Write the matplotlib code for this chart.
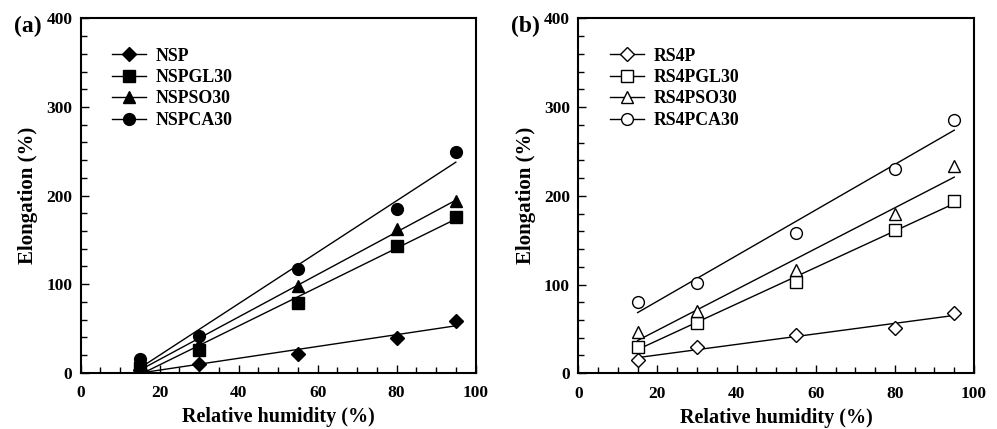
import numpy as np
import matplotlib
matplotlib.use("Agg")
import matplotlib.pyplot as plt
from matplotlib.ticker import MultipleLocator

plt.rcParams['font.family'] = ['Liberation Serif', 'DejaVu Serif']
plt.rcParams['font.weight'] = 'bold'

# Relative humidity levels (%)
rh = [15, 30, 55, 80, 95]

# Elongation (%) of films conditioned at each humidity
labels_a = ["NSP", "NSPGL30", "NSPSO30", "NSPCA30"]
nsp = [3, 10, 21, 39, 59]
nspgl30 = [5, 26, 79, 143, 176]
nspso30 = [8, 33, 98, 162, 194]
nspca30 = [16, 41, 117, 185, 249]

labels_b = ["RS4P", "RS4PGL30", "RS4PSO30", "RS4PCA30"]
rs4p = [15, 30, 43, 51, 68]
rs4pgl30 = [30, 57, 103, 161, 194]
rs4pso30 = [46, 70, 116, 179, 234]
rs4pca30 = [80, 102, 158, 230, 286]

markers = ["D", "s", "^", "o"]
msizes = [7, 8, 8.5, 8.5]


def draw_panel(ax, series, labels, filled, tag):
    x = np.array(rh, dtype=float)
    for y, lab, mk, ms in zip(series, labels, markers, msizes):
        y = np.array(y, dtype=float)
        slope, icpt = np.polyfit(x, y, 1)
        fx = np.array([x.min(), x.max()])
        ax.plot(fx, slope * fx + icpt, color='black', lw=1.0, zorder=2)
        ax.plot(x, y, linestyle='none', marker=mk, ms=ms,
                mfc='black' if filled else 'white', mec='black',
                mew=1.0, zorder=3)
        # legend proxy: line through marker
        ax.plot([], [], color='black', lw=1.0, marker=mk, ms=ms,
                mfc='black' if filled else 'white', mec='black',
                mew=1.0, label=lab)

    ax.set_xlim(0, 100)
    ax.set_ylim(0, 400)
    ax.xaxis.set_major_locator(MultipleLocator(20))
    ax.xaxis.set_minor_locator(MultipleLocator(5))
    ax.yaxis.set_major_locator(MultipleLocator(100))
    ax.yaxis.set_minor_locator(MultipleLocator(20))
    ax.tick_params(which='both', direction='in', top=False, right=False,
                   width=1.0, labelsize=12.5)
    ax.tick_params(axis='x', pad=9)
    ax.tick_params(axis='y', pad=6)
    ax.tick_params(which='major', length=6)
    ax.tick_params(which='minor', length=4)
    for sp in ax.spines.values():
        sp.set_linewidth(1.5)
    for t in ax.get_xticklabels() + ax.get_yticklabels():
        t.set_fontweight('bold')

    ax.set_xlabel("Relative humidity (%)", fontsize=14.5, fontweight='bold',
                  va='bottom')
    ax.xaxis.set_label_coords(0.5, -0.154)
    ax.set_ylabel("Elongation (%)", fontsize=15, fontweight='bold',
                  va='center')
    ax.yaxis.set_label_coords(-0.133, 0.5)

    ax.text(-0.133, 0.978, tag, transform=ax.transAxes, fontsize=17,
            fontweight='bold', ha='center', va='center')

    ax.legend(loc='upper left', bbox_to_anchor=(0.08, 0.918), frameon=False,
              handlelength=1.9, handletextpad=0.55,
              labelspacing=0.25, borderpad=0, borderaxespad=0,
              prop={'weight': 'bold', 'size': 12.8})


fig = plt.figure(figsize=(9.97, 4.29), dpi=100)
ax1 = fig.add_axes([0.081, 0.131, 0.396, 0.826])
ax2 = fig.add_axes([0.580, 0.130, 0.397, 0.827])

draw_panel(ax1, [nsp, nspgl30, nspso30, nspca30], labels_a, True, "(a)")
draw_panel(ax2, [rs4p, rs4pgl30, rs4pso30, rs4pca30], labels_b, False, "(b)")

fig.savefig("out.png", dpi=100)
